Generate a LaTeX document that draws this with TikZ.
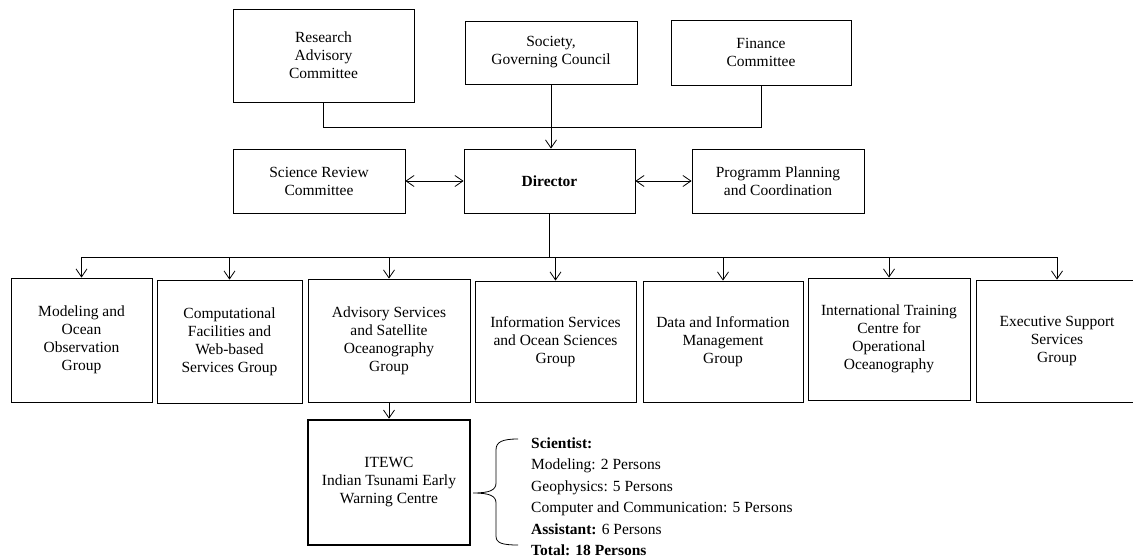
\documentclass[tikz,border=0pt]{standalone}
\usepackage{fontspec}
\setmainfont{Liberation Serif}
\usetikzlibrary{arrows.meta}
\tikzset{
  box/.style={draw, line width=0.8pt, align=center, inner sep=0pt,
    font=\fontsize{15.5}{18}\selectfont},
  thickbox/.style={box, line width=2.6pt},
  conn/.style={line width=0.8pt},
  arr/.style={conn, -{Straight Barb[length=8pt,width=11pt]}},
  darr/.style={conn, {Straight Barb[length=8pt,width=11pt]}-{Straight Barb[length=8pt,width=11pt]}},
  stafftext/.style={anchor=base west, inner sep=0pt, font=\fontsize{15.5}{18}\selectfont}
}
\begin{document}
\begin{tikzpicture}[x=1pt,y=-1pt]
\useasboundingbox (0,0) rectangle (1133,559);
\clip (0,0) rectangle (1133,559);
% top row
\node[box, minimum width=181, minimum height=93] (rac) at (323.5,55.5) {Research\\Advisory\\Committee};
\node[box, minimum width=172, minimum height=63] (soc) at (551,52.5) {Society,\\Governing Council};
\node[box, minimum width=180, minimum height=65] (fin) at (761,52.5) {Finance\\Committee};
% second row
\node[box, minimum width=172, minimum height=64] (src) at (319,181) {Science Review\\Committee};
\node[box, minimum width=171, minimum height=64] (dir) at (549.5,181) {\textbf{Director}};
\node[box, minimum width=172, minimum height=64] (ppc) at (778,181) {Programm Planning\\and Coordination};
% groups
\node[box, minimum width=141, minimum height=124] (g1) at (81.5,340) {Modeling and\\Ocean\\Observation\\Group};
\node[box, minimum width=145, minimum height=123] (g2) at (229.5,341.5) {Computational\\Facilities and\\Web-based\\Services Group};
\node[box, minimum width=162, minimum height=123] (g3) at (389,340.5) {Advisory Services\\and Satellite\\Oceanography\\Group};
\node[box, minimum width=161, minimum height=121] (g4) at (555.5,341.5) {Information Services\\and Ocean Sciences\\Group};
\node[box, minimum width=160, minimum height=121] (g5) at (723,341.5) {Data and Information\\Management\\Group};
\node[box, minimum width=162, minimum height=122] (g6) at (889,339) {International Training\\Centre for\\Operational\\Oceanography};
\node[box, minimum width=162, minimum height=122] (g7) at (1057,341) {Executive Support\\Services\\Group};
% ITEWC
\node[thickbox, minimum width=162, minimum height=125] (itewc) at (389,482.5) {ITEWC\\Indian Tsunami Early\\Warning Centre};
% staff list
\node[stafftext] (s1) at (531,448) {\textbf{Scientist:}};
\node[stafftext] (s2) at (531,469.5) {Modeling: 2 Persons};
\node[stafftext] (s3) at (531,491) {Geophysics: 5 Persons};
\node[stafftext] (s4) at (531,512.5) {Computer and Communication: 5 Persons};
\node[stafftext] (s5) at (531,534) {\textbf{Assistant:} 6 Persons};
\node[stafftext] (s6) at (531,555.5) {\textbf{Total: 18 Persons}};
% connectors
\coordinate (topbus) at (0,127);
\coordinate (bus) at (0,257);
\draw[conn] (rac.south) -- (rac.south |- topbus) -- (fin.south |- topbus) -- (fin.south);
\draw[arr] (soc.south) -- (soc.south |- dir.north);
\draw[darr] (src.east) -- (dir.west);
\draw[darr] (dir.east) -- (ppc.west);
\draw[conn] (dir.south) -- (dir.south |- bus);
\draw[conn] (g1.north |- bus) -- (g7.north |- bus);
\foreach \g in {g1,g2,g3,g4,g5,g6,g7}{
  \draw[arr] (\g.north |- bus) -- (\g.north);
}
\draw[arr] (g3.south) -- (itewc.north);
% brace
\draw[conn] (518,439) .. controls (502,439) and (496,442) .. (496,450) -- (496,483)
  .. controls (496,490) and (490,493) .. (473,493)
  .. controls (490,493) and (496,496) .. (496,503) -- (496,536)
  .. controls (496,543) and (502,545) .. (518,545);
\end{tikzpicture}
\end{document}
